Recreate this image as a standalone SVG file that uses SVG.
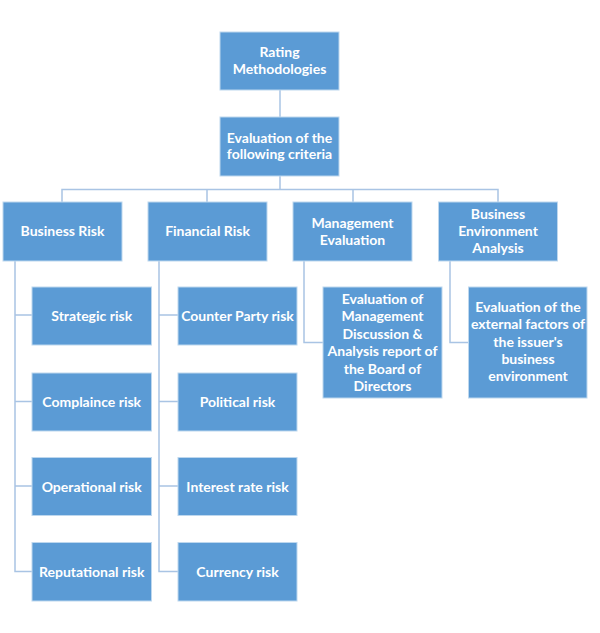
<svg xmlns="http://www.w3.org/2000/svg" width="600" height="633" viewBox="0 0 600 633">
<style>
.box{fill:#5B9BD5;stroke:#BDD7EE;stroke-width:1}
.t{font-family:Lato,"Liberation Sans",Arial,sans-serif;font-size:14px;font-weight:bold;fill:#FFFFFF;text-anchor:middle;dominant-baseline:central}
.c{fill:none;stroke:#A9C4E4;stroke-width:1.5}
</style>
<rect width="600" height="633" fill="#FFFFFF"/>
<g id="connectors">
<path class="c" d="M280 90V117"/>
<path class="c" d="M280 176V189.5M62 202V189.5H498V202M207 189.5V202M353 189.5V202"/>
<path class="c" d="M15 261V571.5H32M15 315H32M15 401.5H32M15 486H32"/>
<path class="c" d="M159 261V571.5H178M159 315H178M159 401.5H178M159 486H178"/>
<path class="c" d="M304 261V342.5H323"/>
<path class="c" d="M450 261V342.5H469"/>
</g>
<g id="rating"><rect class="box" x="220" y="32" width="119" height="58"/><text class="t" x="279.5" y="51.7">Rating</text><text class="t" x="279.5" y="68.5">Methodologies</text></g>
<g id="evaluation"><rect class="box" x="220" y="117" width="119" height="59"/><text class="t" x="279.5" y="137">Evaluation of the</text><text class="t" x="279.5" y="153.5">following criteria</text></g>
<g id="business"><rect class="box" x="3" y="202" width="119" height="59"/><text class="t" x="62.5" y="230">Business Risk</text></g>
<g id="financial"><rect class="box" x="148" y="202" width="119" height="59"/><text class="t" x="207.5" y="230">Financial Risk</text></g>
<g id="management"><rect class="box" x="293" y="202" width="119" height="59"/><text class="t" x="352.5" y="222.3">Management</text><text class="t" x="352.5" y="239.3">Evaluation</text></g>
<g id="environment"><rect class="box" x="438.5" y="202" width="119" height="59"/><text class="t" x="498" y="213.3">Business</text><text class="t" x="498" y="230.3">Environment</text><text class="t" x="498" y="247.3">Analysis</text></g>
<g id="strategic"><rect class="box" x="32" y="287" width="119.5" height="58"/><text class="t" x="91.7" y="315">Strategic risk</text></g>
<g id="compliance"><rect class="box" x="32" y="373" width="119.5" height="58"/><text class="t" x="91.7" y="401.5">Complaince risk</text></g>
<g id="operational"><rect class="box" x="32" y="457.5" width="119.5" height="58"/><text class="t" x="91.7" y="486">Operational risk</text></g>
<g id="reputational"><rect class="box" x="32" y="542.5" width="119.5" height="58.5"/><text class="t" x="91.7" y="571.5">Reputational risk</text></g>
<g id="counterparty"><rect class="box" x="178" y="287" width="119" height="58"/><text class="t" x="237.5" y="315">Counter Party risk</text></g>
<g id="political"><rect class="box" x="178" y="373" width="119" height="58"/><text class="t" x="237.5" y="401.5">Political risk</text></g>
<g id="interest"><rect class="box" x="178" y="457.5" width="119" height="58"/><text class="t" x="237.5" y="486">Interest rate risk</text></g>
<g id="currency"><rect class="box" x="178" y="542.5" width="119" height="58.5"/><text class="t" x="237.5" y="571.5">Currency risk</text></g>
<g id="mgmt-detail"><rect class="box" x="323" y="287" width="119" height="111"/>
<text class="t" x="382.5" y="298.3">Evaluation of</text><text class="t" x="382.5" y="315.8">Management</text><text class="t" x="382.5" y="333.3">Discussion &amp;</text><text class="t" x="382.5" y="350.8">Analysis report of</text><text class="t" x="382.5" y="368.3">the Board of</text><text class="t" x="382.5" y="385.8">Directors</text></g>
<g id="env-detail"><rect class="box" x="468.5" y="287" width="118.5" height="111"/>
<text class="t" x="528" y="306.7">Evaluation of the</text><text class="t" x="528" y="323.9">external factors of</text><text class="t" x="528" y="341.1">the issuer's</text><text class="t" x="528" y="358.3">business</text><text class="t" x="528" y="375.5">environment</text></g>
</svg>
